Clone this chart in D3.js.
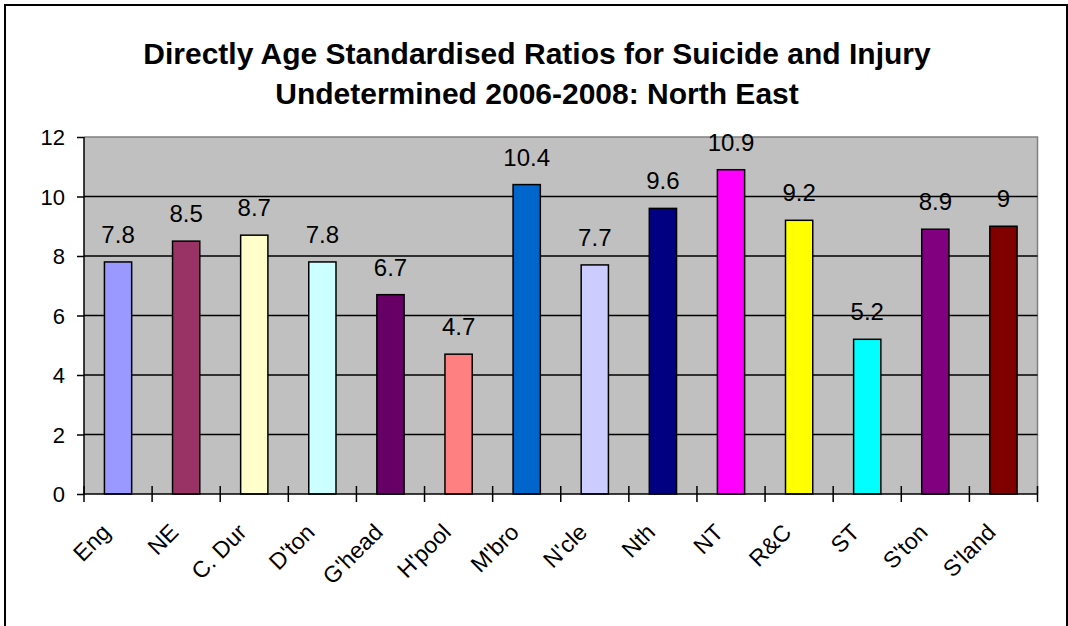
<!DOCTYPE html>
<html><head><meta charset="utf-8">
<script src="https://cdn.jsdelivr.net/npm/d3@7"></script>
<style>html,body{margin:0;padding:0;background:#fff;}svg{display:block;}</style>
</head><body>
<script>
const categories = ["Eng","NE","C. Dur","D'ton","G'head","H'pool","M'bro","N'cle","Nth","NT","R&C","ST","S'ton","S'land"];
const values = [7.8,8.5,8.7,7.8,6.7,4.7,10.4,7.7,9.6,10.9,9.2,5.2,8.9,9];
const valueLabels = ["7.8","8.5","8.7","7.8","6.7","4.7","10.4","7.7","9.6","10.9","9.2","5.2","8.9","9"];
const barColors = ["#9999FF","#993366","#FFFFCC","#CCFFFF","#660066","#FF8080","#0066CC","#CCCCFF","#000080","#FF00FF","#FFFF00","#00FFFF","#800080","#800000"];
const yTicks = [0,2,4,6,8,10,12];
const titleLines = ["Directly Age Standardised Ratios for Suicide and Injury","Undetermined 2006-2008: North East"];

const W = 1068, H = 626;
const svg = d3.select("body").append("svg").attr("width", W).attr("height", H);
const font = "Liberation Sans, Arial, sans-serif";

// frame
svg.append("path").attr("d", `M5,${H+2} L5,5 L1067,5 L1067,${H+2}`)
  .attr("fill","none").attr("stroke","#000").attr("stroke-width",2);

const L = 84, R = 1037.5, T = 137, B = 494;
const x = d3.scaleBand().domain(categories).range([L, R]).padding(0);
const y = d3.scaleLinear().domain([0, 12]).range([B, T]);

svg.append("rect").attr("x", L).attr("y", T).attr("width", R - L).attr("height", B - T).attr("fill", "#C0C0C0");
// top and right border grey
svg.append("path").attr("d", `M${L},${T} L${R},${T} L${R},${B}`).attr("fill","none").attr("stroke","#808080").attr("stroke-width",1.5);

// gridlines
svg.append("g").selectAll("line").data(yTicks.filter(d => d > 0 && d < 12)).join("line")
  .attr("x1", L).attr("x2", R).attr("y1", d => y(d)).attr("y2", d => y(d))
  .attr("stroke", "#000").attr("stroke-width", 1.5);

// bars
const bw = x.bandwidth() * 0.4;
svg.append("g").selectAll("rect").data(values).join("rect")
  .attr("x", (d, i) => x(categories[i]) + x.bandwidth() / 2 - bw / 2)
  .attr("y", d => y(d)).attr("width", bw).attr("height", d => B - y(d))
  .attr("fill", (d, i) => barColors[i]).attr("stroke", "#000").attr("stroke-width", 1.5);

// value labels
svg.append("g").selectAll("text").data(values).join("text")
  .attr("x", (d, i) => x(categories[i]) + x.bandwidth() / 2)
  .attr("y", d => y(d) - 19)
  .attr("text-anchor", "middle").attr("font-family", font).attr("font-size", 24)
  .attr("fill", "#000").text((d, i) => valueLabels[i]);

// y axis
const yAxis = svg.append("g").attr("transform", `translate(${L},0)`)
  .call(d3.axisLeft(y).tickValues(yTicks).tickSize(7).tickPadding(12).tickFormat(d3.format("d")));
yAxis.select(".domain").attr("stroke", "#000").attr("stroke-width", 1.5).attr("d", `M0,${T}V${B}`);
yAxis.selectAll(".tick line").attr("stroke", "#000").attr("stroke-width", 1.5);
yAxis.selectAll(".tick text").attr("font-family", font).attr("font-size", 22).attr("fill", "#000").attr("dy", "0.35em");

// x axis
const xAxis = svg.append("g").attr("transform", `translate(0,${B})`)
  .call(d3.axisBottom(x).tickSize(0).tickFormat(""));
xAxis.select(".domain").attr("stroke", "#000").attr("stroke-width", 1.5).attr("d", `M${L},0H${R}`);
xAxis.selectAll(".tick").remove();
const bounds = categories.map(c => x(c)).concat([R]);
xAxis.append("g").selectAll("line").data(bounds).join("line")
  .attr("x1", d => d).attr("x2", d => d).attr("y1", -8).attr("y2", 8)
  .attr("stroke", "#000").attr("stroke-width", 1.5);

svg.append("g").selectAll("text").data(categories).join("text")
  .attr("transform", c => `translate(${x(c) + x.bandwidth() / 2 - 12},${B + 34}) rotate(-45)`)
  .attr("text-anchor", "end").attr("font-family", font).attr("font-size", 23)
  .attr("dy", "0.35em").attr("fill", "#000").text(c => c);

// title
svg.append("g").selectAll("text").data(titleLines).join("text")
  .attr("x", 537).attr("y", (d, i) => 64 + i * 40)
  .attr("text-anchor", "middle").attr("font-family", font).attr("font-weight", "bold")
  .attr("font-size", 30).attr("fill", "#000").text(d => d);
</script>
</body></html>
